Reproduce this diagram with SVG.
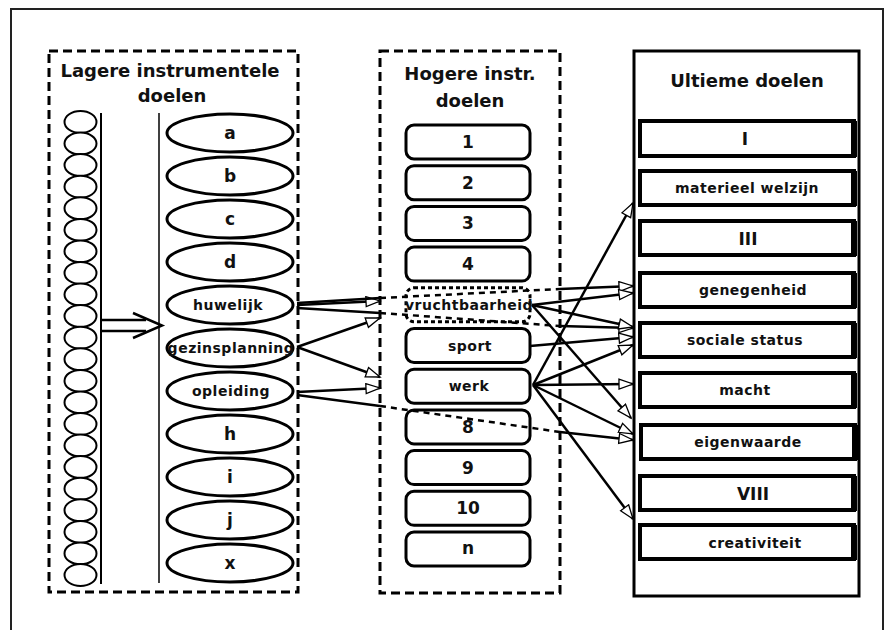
<svg xmlns="http://www.w3.org/2000/svg" width="889" height="630" viewBox="0 0 889 630">
<defs>
<style>
text{font-family:"DejaVu Sans","Liberation Sans",sans-serif;font-weight:bold;fill:#111;text-anchor:middle}
.title{font-size:18px}
.big{font-size:17px}
.lbl{font-size:14px;letter-spacing:0.5px}
.dash{fill:none;stroke:#000;stroke-width:3;stroke-dasharray:9,5}
.ell{fill:#fff;stroke:#000;stroke-width:3}
.sm{fill:#fff;stroke:#000;stroke-width:2}
.rr{fill:#fff;stroke:#000;stroke-width:3}
.ub{fill:#fff;stroke:#000;stroke-width:4}
.c{fill:none;stroke:#000;stroke-width:2.5}
.cd{fill:none;stroke:#000;stroke-width:2.5;stroke-dasharray:6,5}
.a{marker-end:url(#ah)}
</style>
<marker id="ah" markerUnits="userSpaceOnUse" markerWidth="18" markerHeight="14" refX="15" refY="6" orient="auto">
<path d="M1,1 L15,6 L1,11 Z" fill="#fff" stroke="#000" stroke-width="1.3"/>
</marker>
</defs>
<rect x="0" y="0" width="889" height="630" fill="#fff"/>
<path d="M11,640 V9 H883 V640" fill="none" stroke="#222" stroke-width="2"/>

<g id="lagere">
<rect class="dash" x="49" y="51" width="249" height="541"/>
<text class="title" x="170" y="77">Lagere instrumentele</text>
<text class="title" x="172" y="102">doelen</text>
<g id="small-ellipses">
<ellipse class="sm" cx="80.5" cy="122" rx="16" ry="11"/>
<ellipse class="sm" cx="80.5" cy="143.6" rx="16" ry="11"/>
<ellipse class="sm" cx="80.5" cy="165.1" rx="16" ry="11"/>
<ellipse class="sm" cx="80.5" cy="186.7" rx="16" ry="11"/>
<ellipse class="sm" cx="80.5" cy="208.3" rx="16" ry="11"/>
<ellipse class="sm" cx="80.5" cy="229.9" rx="16" ry="11"/>
<ellipse class="sm" cx="80.5" cy="251.4" rx="16" ry="11"/>
<ellipse class="sm" cx="80.5" cy="273" rx="16" ry="11"/>
<ellipse class="sm" cx="80.5" cy="294.6" rx="16" ry="11"/>
<ellipse class="sm" cx="80.5" cy="316.1" rx="16" ry="11"/>
<ellipse class="sm" cx="80.5" cy="337.7" rx="16" ry="11"/>
<ellipse class="sm" cx="80.5" cy="359.3" rx="16" ry="11"/>
<ellipse class="sm" cx="80.5" cy="380.9" rx="16" ry="11"/>
<ellipse class="sm" cx="80.5" cy="402.4" rx="16" ry="11"/>
<ellipse class="sm" cx="80.5" cy="424" rx="16" ry="11"/>
<ellipse class="sm" cx="80.5" cy="445.6" rx="16" ry="11"/>
<ellipse class="sm" cx="80.5" cy="467.1" rx="16" ry="11"/>
<ellipse class="sm" cx="80.5" cy="488.7" rx="16" ry="11"/>
<ellipse class="sm" cx="80.5" cy="510.3" rx="16" ry="11"/>
<ellipse class="sm" cx="80.5" cy="531.9" rx="16" ry="11"/>
<ellipse class="sm" cx="80.5" cy="553.4" rx="16" ry="11"/>
<ellipse class="sm" cx="80.5" cy="575" rx="16" ry="11"/>
</g>
<line x1="101" y1="113" x2="101" y2="584" stroke="#000" stroke-width="2"/>
<line x1="159" y1="113" x2="159" y2="583" stroke="#000" stroke-width="1.5"/>
<g id="big-arrow" fill="none" stroke="#000" stroke-width="2.5">
<path d="M101,320 H146 M101,331 H146"/>
<path d="M133,313 L162,325.5 L133,338"/>
</g>
</g>

<g id="n-a"><ellipse class="ell" cx="230" cy="133" rx="63" ry="19"/><text class="big" x="230" y="139">a</text></g>
<g id="n-b"><ellipse class="ell" cx="230" cy="176" rx="63" ry="19"/><text class="big" x="230" y="182">b</text></g>
<g id="n-c"><ellipse class="ell" cx="230" cy="219" rx="63" ry="19"/><text class="big" x="230" y="225">c</text></g>
<g id="n-d"><ellipse class="ell" cx="230" cy="262" rx="63" ry="19"/><text class="big" x="230" y="268">d</text></g>
<g id="n-huwelijk"><ellipse class="ell" cx="230" cy="305" rx="63" ry="19"/><text class="lbl" x="228" y="310">huwelijk</text></g>
<g id="n-gezinsplanning"><ellipse class="ell" cx="230" cy="348" rx="63" ry="19"/><text class="lbl" x="231" y="353">gezinsplanning</text></g>
<g id="n-opleiding"><ellipse class="ell" cx="230" cy="391" rx="63" ry="19"/><text class="lbl" x="231" y="396">opleiding</text></g>
<g id="n-h"><ellipse class="ell" cx="230" cy="434" rx="63" ry="19"/><text class="big" x="230" y="440">h</text></g>
<g id="n-i"><ellipse class="ell" cx="230" cy="477" rx="63" ry="19"/><text class="big" x="230" y="483">i</text></g>
<g id="n-j"><ellipse class="ell" cx="230" cy="520" rx="63" ry="19"/><text class="big" x="230" y="526">j</text></g>
<g id="n-x"><ellipse class="ell" cx="230" cy="563" rx="63" ry="19"/><text class="big" x="230" y="569">x</text></g>

<g id="hogere">
<rect class="dash" x="380" y="51" width="180" height="542"/>
<text class="title" x="470" y="80">Hogere instr.</text>
<text class="title" x="470" y="107">doelen</text>
</g>
<g id="m-1"><rect class="rr" x="406" y="125" width="124" height="34" rx="8"/><text class="big" x="468" y="148">1</text></g>
<g id="m-2"><rect class="rr" x="406" y="165.7" width="124" height="34" rx="8"/><text class="big" x="468" y="189">2</text></g>
<g id="m-3"><rect class="rr" x="406" y="206.4" width="124" height="34" rx="8"/><text class="big" x="468" y="229">3</text></g>
<g id="m-4"><rect class="rr" x="406" y="247.1" width="124" height="34" rx="8"/><text class="big" x="468" y="270">4</text></g>
<g id="m-vruchtbaarheid"><rect class="rr" x="406" y="287.8" width="124" height="34" rx="8" stroke-dasharray="4,3"/><text class="lbl" x="469" y="310" letter-spacing="0">vruchtbaarheid</text></g>
<g id="m-sport"><rect class="rr" x="406" y="328.5" width="124" height="34" rx="8"/><text class="lbl" x="470" y="351">sport</text></g>
<g id="m-werk"><rect class="rr" x="406" y="369.2" width="124" height="34" rx="8"/><text class="lbl" x="469" y="391">werk</text></g>
<g id="m-8"><rect class="rr" x="406" y="409.9" width="124" height="34" rx="8"/><text class="big" x="468" y="433">8</text></g>
<g id="m-9"><rect class="rr" x="406" y="450.6" width="124" height="34" rx="8"/><text class="big" x="468" y="474">9</text></g>
<g id="m-10"><rect class="rr" x="406" y="491.3" width="124" height="34" rx="8"/><text class="big" x="468" y="514">10</text></g>
<g id="m-n"><rect class="rr" x="406" y="532" width="124" height="34" rx="8"/><text class="big" x="468" y="554">n</text></g>

<g id="ultieme">
<rect x="634" y="51" width="225" height="545" fill="#fff" stroke="#000" stroke-width="3"/>
<text class="title" x="747" y="87">Ultieme doelen</text>
</g>
<g id="u-1"><rect class="ub" x="640" y="121" width="214" height="35"/><rect x="851" y="121" width="6" height="36"/><text class="big" x="745" y="145">I</text></g>
<g id="u-2"><rect class="ub" x="640" y="171" width="214" height="34"/><rect x="851" y="171" width="6" height="35"/><text class="lbl" x="747" y="193">materieel welzijn</text></g>
<g id="u-3"><rect class="ub" x="640" y="221" width="214" height="34"/><rect x="851" y="221" width="6" height="35"/><text class="big" x="748" y="245">III</text></g>
<g id="u-4"><rect class="ub" x="640" y="273" width="214" height="34"/><rect x="851" y="273" width="6" height="35"/><text class="lbl" x="753" y="295">genegenheid</text></g>
<g id="u-5"><rect class="ub" x="640" y="323" width="214" height="34"/><rect x="851" y="323" width="6" height="35"/><text class="lbl" x="745" y="345">sociale status</text></g>
<g id="u-6"><rect class="ub" x="640" y="373" width="214" height="34"/><rect x="851" y="373" width="6" height="35"/><text class="lbl" x="745" y="395">macht</text></g>
<g id="u-7"><rect class="ub" x="641" y="425" width="214" height="34"/><rect x="852" y="425" width="6" height="35"/><text class="lbl" x="748" y="447">eigenwaarde</text></g>
<g id="u-8"><rect class="ub" x="640" y="476" width="214" height="34"/><rect x="851" y="476" width="6" height="35"/><text class="big" x="753" y="500">VIII</text></g>
<g id="u-9"><rect class="ub" x="640" y="525" width="214" height="34"/><rect x="851" y="525" width="6" height="35"/><text class="lbl" x="755" y="548">creativiteit</text></g>

<g id="connectors">
<path class="c a" d="M297,305 L380,301" stroke-width="4"/>
<path class="c" d="M297,303 L380,298"/>
<path class="cd" d="M380,298 L560,289"/>
<path class="c a" d="M560,289 L633,286"/>
<path class="c" d="M297,308 L380,313"/>
<path class="cd" d="M380,313 L560,326"/>
<path class="c a" d="M560,326 L633,328"/>
<path class="c a" d="M297,347 L380,318"/>
<path class="c a" d="M297,347 L380,377"/>
<path class="c a" d="M297,392 L380,388" stroke-width="4"/>
<path class="c" d="M297,395 L380,406"/>
<path class="cd" d="M380,406 L560,432"/>
<path class="c a" d="M560,432 L633,440"/>
<path class="c a" d="M532,305 L633,293"/>
<path class="c a" d="M532,305 L633,327"/>
<path class="c a" d="M532,305 L631,418"/>
<path class="c a" d="M530,346 L633,337"/>
<path class="c a" d="M533,385 L633,203"/>
<path class="c a" d="M533,385 L633,345"/>
<path class="c a" d="M533,385 L633,384"/>
<path class="c a" d="M533,385 L633,434"/>
<path class="c a" d="M533,385 L633,519"/>
</g>
</svg>
